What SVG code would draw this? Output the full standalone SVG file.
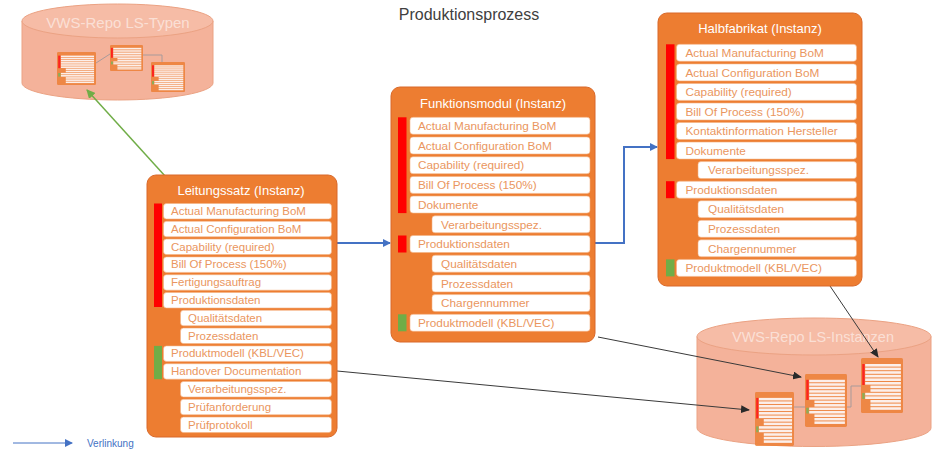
<svg xmlns="http://www.w3.org/2000/svg" width="932" height="449" viewBox="0 0 932 449">
<style>
.node{fill:#ED7D31;stroke:#D9692A;stroke-width:1}
.hdr{font-family:"Liberation Sans",Arial,sans-serif;font-size:13px;fill:#FFFFFF;text-anchor:middle}
.row{fill:#FFFFFF;stroke:#F4B183;stroke-width:0.6}
.lbl{font-family:"Liberation Sans",Arial,sans-serif;font-size:11.5px;fill:#EA9660}
.lbl2{font-family:"Liberation Sans",Arial,sans-serif;font-size:11.8px;fill:#EA9660}
.red{fill:#FF0000}
.grn{fill:#70AD47}
.cylb{fill:#F4B29A;stroke:#EBA283;stroke-width:1}
.cylt{fill:#F6BCA6;stroke:#EBA283;stroke-width:1}
.cyltxt{font-family:"Liberation Sans",Arial,sans-serif;fill:#FFFFFF;fill-opacity:0.55;text-anchor:middle}
.title{font-family:"Liberation Sans",Arial,sans-serif;font-size:16px;fill:#404040;text-anchor:middle}
.blue{fill:none;stroke:#4472C4;stroke-width:2}
.green{fill:none;stroke:#70AD47;stroke-width:1.5}
.dark{fill:none;stroke:#3A3A3A;stroke-width:1}
.mini{fill:none;stroke:#A89A9A;stroke-width:1}
.mb{opacity:0.8}
</style>
<defs>
<marker id="ab" markerWidth="8" markerHeight="8" refX="7" refY="4" orient="auto" markerUnits="userSpaceOnUse"><path d="M0,0 L8,4 L0,8 Z" fill="#4472C4"/></marker>
<marker id="ag" markerWidth="9" markerHeight="9" refX="8" refY="4.5" orient="auto" markerUnits="userSpaceOnUse"><path d="M0,0 L9,4.5 L0,9 Z" fill="#70AD47"/></marker>
<marker id="ak" markerWidth="9" markerHeight="8" refX="8" refY="4" orient="auto" markerUnits="userSpaceOnUse"><path d="M0,0 L9,4 L0,8 Z" fill="#2A2A2A"/></marker>
<symbol id="minibox" viewBox="0 0 40 55" preserveAspectRatio="none">
<rect x="0" y="0" width="40" height="55" rx="1.5" fill="#ED7D31"/>
<g fill="#FFFFFF">
<rect x="4" y="6" width="34" height="2.6"/><rect x="4" y="9.6" width="34" height="2.6"/><rect x="4" y="13.2" width="34" height="2.6"/><rect x="4" y="16.8" width="34" height="2.6"/><rect x="4" y="20.4" width="34" height="2.6"/><rect x="4" y="24" width="34" height="2.6"/><rect x="9" y="27.6" width="29" height="2.6"/><rect x="9" y="31.2" width="29" height="2.6"/><rect x="4" y="34.8" width="34" height="2.6"/><rect x="4" y="38.4" width="34" height="2.6"/><rect x="9" y="42" width="29" height="2.6"/><rect x="9" y="45.6" width="29" height="2.6"/><rect x="9" y="49.2" width="29" height="2.6"/>
</g>
<rect x="1.2" y="6" width="2.3" height="21" fill="#FF0000"/>
<rect x="1.2" y="35" width="2.3" height="6" fill="#70AD47"/>
</symbol>
</defs>
<rect x="0" y="0" width="932" height="449" fill="#FFFFFF"/>
<text class="title" x="469" y="20">Produktionsprozess</text>
<g id="repo-typen">
<path class="cylb" d="M22,21 L22,83 A95.5,17 0 0 0 213,83 L213,21 Z"/>
<ellipse class="cylt" cx="117.5" cy="21" rx="95.5" ry="17"/>
<text class="cyltxt" x="118" y="28" font-size="15">VWS-Repo LS-Typen</text>
<use class="mb" href="#minibox" x="57" y="52" width="39" height="33"/>
<use class="mb" href="#minibox" x="110" y="45" width="33" height="26"/>
<use class="mb" href="#minibox" x="151" y="62" width="34" height="30"/>
</g>
<g id="repo-instanzen">
<path class="cylb" d="M697,336.5 L697,428 A117,18.5 0 0 0 931,428 L931,336.5 Z"/>
<ellipse class="cylt" cx="814" cy="336.5" rx="117" ry="18.5"/>
<text class="cyltxt" x="813" y="342" font-size="14.5">VWS-Repo LS-Instanzen</text>
<use class="mb" href="#minibox" x="755" y="392" width="39" height="54"/>
<use class="mb" href="#minibox" x="805" y="374" width="42" height="53"/>
<use class="mb" href="#minibox" x="861" y="358" width="42" height="55"/>
</g>
<g id="connectors">
<path class="mini" d="M96,63 L110,54"/>
<path class="mini" d="M143,55 L162,55 L162,62"/>
<path class="mini" d="M794,407 L805,407"/>
<path class="mini" d="M847,407 L851,407 L851,386 L861,386"/>
<path class="green" d="M165,176 L87,90" marker-end="url(#ag)"/>
<path class="blue" d="M337,243 L390,243" marker-end="url(#ab)"/>
<path class="blue" d="M595,243 L624,243 L624,147 L657,147" marker-end="url(#ab)"/>
<path class="dark" d="M598,337 L801,377" marker-end="url(#ak)"/>
<path class="dark" d="M830,286 L878,357" marker-end="url(#ak)"/>
<path class="dark" d="M337,371 L749,410" marker-end="url(#ak)"/>
<path d="M13,443 L72,443" fill="none" stroke="#4472C4" stroke-width="1" marker-end="url(#ab)"/>
</g>
<text x="87" y="447" font-family="Liberation Sans,Arial,sans-serif" font-size="10" fill="#4472C4">Verlinkung</text>
<g id="leitungssatz">
<rect class="node" x="147" y="175" width="190" height="262" rx="9"/>
<text class="hdr" x="241" y="195">Leitungssatz (Instanz)</text>
<rect class="red" x="154" y="203.5" width="8" height="103.5"/>
<rect class="grn" x="154" y="345.9" width="8" height="33.3"/>
<rect class="row" x="163.5" y="203.5" width="168" height="15.5" rx="3"/><text class="lbl" x="171" y="215">Actual Manufacturing BoM</text>
<rect class="row" x="163.5" y="221.3" width="168" height="15.5" rx="3"/><text class="lbl" x="171" y="232.8">Actual Configuration BoM</text>
<rect class="row" x="163.5" y="239.1" width="168" height="15.5" rx="3"/><text class="lbl" x="171" y="250.6">Capability (required)</text>
<rect class="row" x="163.5" y="256.9" width="168" height="15.5" rx="3"/><text class="lbl" x="171" y="268.4">Bill Of Process (150%)</text>
<rect class="row" x="163.5" y="274.7" width="168" height="15.5" rx="3"/><text class="lbl" x="171" y="286.2">Fertigungsauftrag</text>
<rect class="row" x="163.5" y="292.5" width="168" height="15.5" rx="3"/><text class="lbl" x="171" y="304">Produktionsdaten</text>
<rect class="row" x="180.5" y="310.3" width="151" height="15.5" rx="3"/><text class="lbl" x="188" y="321.8">Qualitätsdaten</text>
<rect class="row" x="180.5" y="328.1" width="151" height="15.5" rx="3"/><text class="lbl" x="188" y="339.6">Prozessdaten</text>
<rect class="row" x="163.5" y="345.9" width="168" height="15.5" rx="3"/><text class="lbl" x="171" y="357.4">Produktmodell (KBL/VEC)</text>
<rect class="row" x="163.5" y="363.7" width="168" height="15.5" rx="3"/><text class="lbl" x="171" y="375.2">Handover Documentation</text>
<rect class="row" x="180.5" y="381.5" width="151" height="15.5" rx="3"/><text class="lbl" x="188" y="393">Verarbeitungsspez.</text>
<rect class="row" x="180.5" y="399.3" width="151" height="15.5" rx="3"/><text class="lbl" x="188" y="410.8">Prüfanforderung</text>
<rect class="row" x="180.5" y="417.1" width="151" height="15.5" rx="3"/><text class="lbl" x="188" y="428.6">Prüfprotokoll</text>
</g>
<g id="funktionsmodul">
<rect class="node" x="391" y="87" width="204" height="255" rx="9"/>
<text class="hdr" x="493" y="108">Funktionsmodul  (Instanz)</text>
<rect class="red" x="398" y="117.3" width="8.5" height="95.8"/>
<rect class="red" x="398" y="235.5" width="8.5" height="17"/>
<rect class="grn" x="398" y="314.3" width="8.5" height="17"/>
<rect class="row" x="410" y="117.3" width="180" height="17" rx="3"/><text class="lbl2" x="418" y="130">Actual Manufacturing BoM</text>
<rect class="row" x="410" y="137" width="180" height="17" rx="3"/><text class="lbl2" x="418" y="149.7">Actual Configuration BoM</text>
<rect class="row" x="410" y="156.7" width="180" height="17" rx="3"/><text class="lbl2" x="418" y="169.4">Capability (required)</text>
<rect class="row" x="410" y="176.4" width="180" height="17" rx="3"/><text class="lbl2" x="418" y="189.1">Bill Of Process (150%)</text>
<rect class="row" x="410" y="196.1" width="180" height="17" rx="3"/><text class="lbl2" x="418" y="208.8">Dokumente</text>
<rect class="row" x="432" y="215.8" width="158" height="17" rx="3"/><text class="lbl2" x="441" y="228.5">Verarbeitungsspez.</text>
<rect class="row" x="410" y="235.5" width="180" height="17" rx="3"/><text class="lbl2" x="418" y="248.2">Produktionsdaten</text>
<rect class="row" x="432" y="255.2" width="158" height="17" rx="3"/><text class="lbl2" x="441" y="267.9">Qualitätsdaten</text>
<rect class="row" x="432" y="274.9" width="158" height="17" rx="3"/><text class="lbl2" x="441" y="287.6">Prozessdaten</text>
<rect class="row" x="432" y="294.6" width="158" height="17" rx="3"/><text class="lbl2" x="441" y="307.3">Chargennummer</text>
<rect class="row" x="410" y="314.3" width="180" height="17" rx="3"/><text class="lbl2" x="418" y="327">Produktmodell (KBL/VEC)</text>
</g>
<g id="halbfabrikat">
<rect class="node" x="658" y="13" width="204" height="273" rx="9"/>
<text class="hdr" x="760" y="33">Halbfabrikat (Instanz)</text>
<rect class="red" x="666" y="44.3" width="8.5" height="114.8"/>
<rect class="red" x="666" y="181.2" width="8.5" height="17"/>
<rect class="grn" x="666" y="259.4" width="8.5" height="17"/>
<rect class="row" x="676.5" y="44.3" width="180" height="17" rx="3"/><text class="lbl2" x="685.5" y="57">Actual Manufacturing BoM</text>
<rect class="row" x="676.5" y="63.9" width="180" height="17" rx="3"/><text class="lbl2" x="685.5" y="76.6">Actual Configuration BoM</text>
<rect class="row" x="676.5" y="83.4" width="180" height="17" rx="3"/><text class="lbl2" x="685.5" y="96.1">Capability (required)</text>
<rect class="row" x="676.5" y="103" width="180" height="17" rx="3"/><text class="lbl2" x="685.5" y="115.7">Bill Of Process (150%)</text>
<rect class="row" x="676.5" y="122.5" width="180" height="17" rx="3"/><text class="lbl2" x="685.5" y="135.2">Kontaktinformation Hersteller</text>
<rect class="row" x="676.5" y="142.1" width="180" height="17" rx="3"/><text class="lbl2" x="685.5" y="154.8">Dokumente</text>
<rect class="row" x="698" y="161.6" width="158.5" height="17" rx="3"/><text class="lbl2" x="708" y="174.3">Verarbeitungsspez.</text>
<rect class="row" x="676.5" y="181.2" width="180" height="17" rx="3"/><text class="lbl2" x="685.5" y="193.9">Produktionsdaten</text>
<rect class="row" x="698" y="200.7" width="158.5" height="17" rx="3"/><text class="lbl2" x="708" y="213.4">Qualitätsdaten</text>
<rect class="row" x="698" y="220.3" width="158.5" height="17" rx="3"/><text class="lbl2" x="708" y="233">Prozessdaten</text>
<rect class="row" x="698" y="239.8" width="158.5" height="17" rx="3"/><text class="lbl2" x="708" y="252.5">Chargennummer</text>
<rect class="row" x="676.5" y="259.4" width="180" height="17" rx="3"/><text class="lbl2" x="685.5" y="272.1">Produktmodell (KBL/VEC)</text>
</g>
</svg>
